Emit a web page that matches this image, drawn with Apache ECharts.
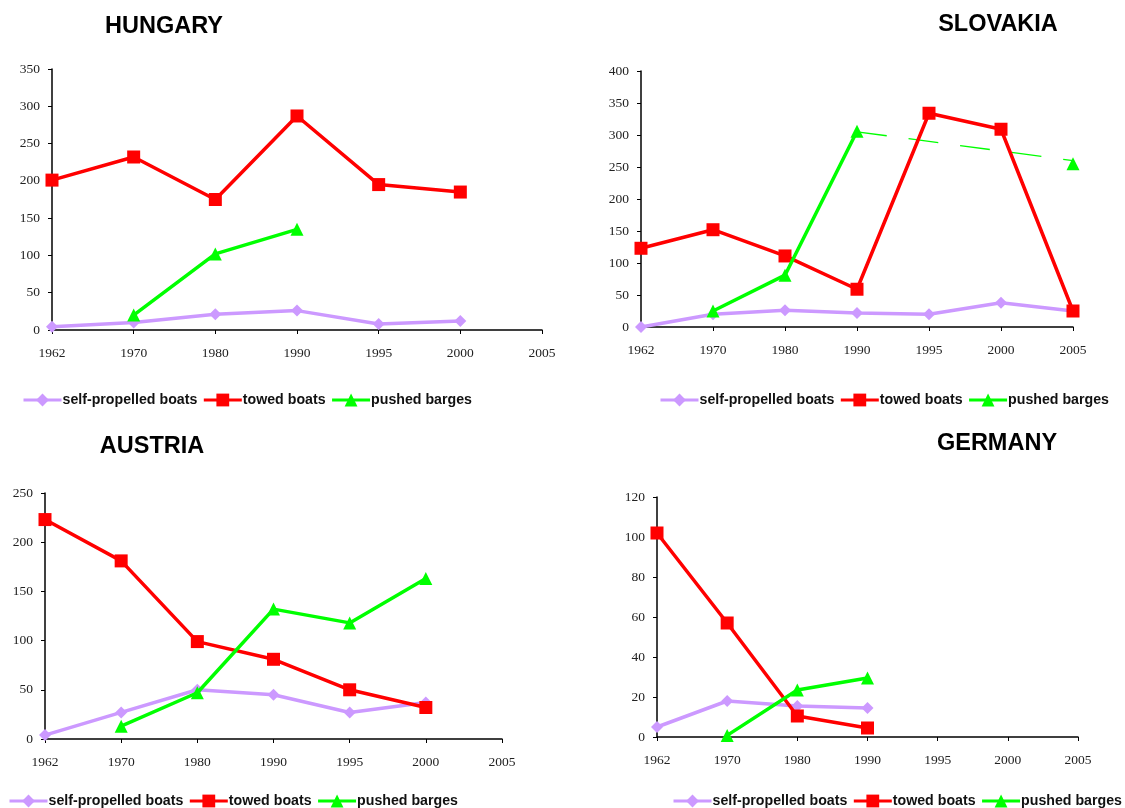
<!DOCTYPE html>
<html><head><meta charset="utf-8">
<script src="https://cdn.jsdelivr.net/npm/echarts@6/dist/echarts.min.js"></script>
<style>html,body{margin:0;padding:0;background:#fff}#c{width:1125px;height:808px}</style>
</head><body><div id="c"></div>
<script>
const years = ['1962','1970','1980','1990','1995','2000','2005'];
const seriesNames = ['self-propelled boats','towed boats','pushed barges'];

const huSelf   = [4.5, 10, 21, 26, 8, 12, null];
const huTowed  = [201, 232, 175, 287, 195, 185, null];
const huPushed = [null, 20, 102, 135, null, null, null];

const skSelf   = [0, 20, 26, 22, 20, 38, 25];
const skTowed  = [123, 152, 111, 59, 334, 309, 25];
const skPushed = [null, 25, 81, 306, null, null, 255];
const skTrend  = [null, null, null, 305, null, null, 260];

const atSelf   = [4, 27, 50, 45, 27, 37, null];
const atTowed  = [223, 181, 99, 81, 50, 32, null];
const atPushed = [null, 13, 47, 132, 118, 163, null];

const deSelf   = [5, 18, 15.5, 14.5, null, null, null];
const deTowed  = [102, 57, 10.5, 4.5, null, null, null];
const dePushed = [null, 0.8, 23.5, 29.5, null, null, null];

const panels = [
  {title:'HUNGARY',  tx:159, ty:10, grid:{left:52, top:69, width:490, height:261}, max:350, interval:50, self:huSelf, towed:huTowed, pushed:huPushed, lx:17, ly:388},
  {title:'SLOVAKIA', tx:993, ty:8,  grid:{left:641, top:71, width:432, height:256}, max:400, interval:50, self:skSelf, towed:skTowed, pushed:skPushed, lx:654, ly:388},
  {title:'AUSTRIA',  tx:147, ty:430, grid:{left:45, top:493, width:457, height:246}, max:250, interval:50, self:atSelf, towed:atTowed, pushed:atPushed, lx:3, ly:789},
  {title:'GERMANY',  tx:992, ty:427, grid:{left:657, top:497, width:421, height:240}, max:120, interval:20, self:deSelf, towed:deTowed, pushed:dePushed, lx:667, ly:789}
];

const colors = {self:'#CC99FF', towed:'#FF0000', pushed:'#00FF00'};
const option = {
  animation:false,
  backgroundColor:'#fff',
  title:[], grid:[], xAxis:[], yAxis:[], series:[], legend:[]
};
panels.forEach((p,i)=>{
  option.title.push({text:p.title, left:p.tx, top:p.ty, textAlign:'center',
    textStyle:{fontFamily:'Liberation Sans', fontWeight:'bold', fontSize:23.5, color:'#000'}});
  option.grid.push(p.grid);
  option.xAxis.push({type:'category', gridIndex:i, data:years, boundaryGap:false,
    axisLine:{lineStyle:{color:'#000', width:1.5}},
    axisTick:{show:true, length:4, alignWithLabel:true, lineStyle:{color:'#000'}},
    axisLabel:{fontFamily:'Liberation Serif', fontSize:13.5, color:'#222', margin:16, interval:0},
    splitLine:{show:false}});
  option.yAxis.push({type:'value', gridIndex:i, min:0, max:p.max, interval:p.interval,
    axisLine:{show:true, lineStyle:{color:'#000', width:1.5}},
    axisTick:{show:true, length:4, lineStyle:{color:'#000'}},
    axisLabel:{fontFamily:'Liberation Serif', fontSize:13.5, color:'#222', margin:12},
    splitLine:{show:false}});
  option.series.push({name:seriesNames[0], type:'line', xAxisIndex:i, yAxisIndex:i, data:p.self,
    symbol:'diamond', symbolSize:12, itemStyle:{color:colors.self}, lineStyle:{color:colors.self, width:3.5}, z:2});
  option.series.push({name:seriesNames[1], type:'line', xAxisIndex:i, yAxisIndex:i, data:p.towed,
    symbol:'rect', symbolSize:13, itemStyle:{color:colors.towed}, lineStyle:{color:colors.towed, width:3.5}, z:3});
  option.series.push({name:seriesNames[2], type:'line', xAxisIndex:i, yAxisIndex:i, data:p.pushed,
    symbol:'triangle', symbolSize:13, itemStyle:{color:colors.pushed}, lineStyle:{color:colors.pushed, width:3.5}, z:4});
  option.legend.push({left:p.lx, top:p.ly, width:560, itemWidth:38, itemHeight:16, itemGap:5, data:seriesNames,
    lineStyle:{width:3},
    textStyle:{fontFamily:'Liberation Sans', fontWeight:'bold', fontSize:14.2, color:'#111', padding:[0,0,0,-4]},
    selectedMode:false});
});
option.series.push({name:'trend', type:'line', xAxisIndex:1, yAxisIndex:1, data:skTrend, connectNulls:true,
  showSymbol:false, symbol:'none', lineStyle:{color:colors.pushed, width:1.3, type:[30,22]}, z:1});

const chart = echarts.init(document.getElementById('c'));
chart.setOption(option);
</script></body></html>
